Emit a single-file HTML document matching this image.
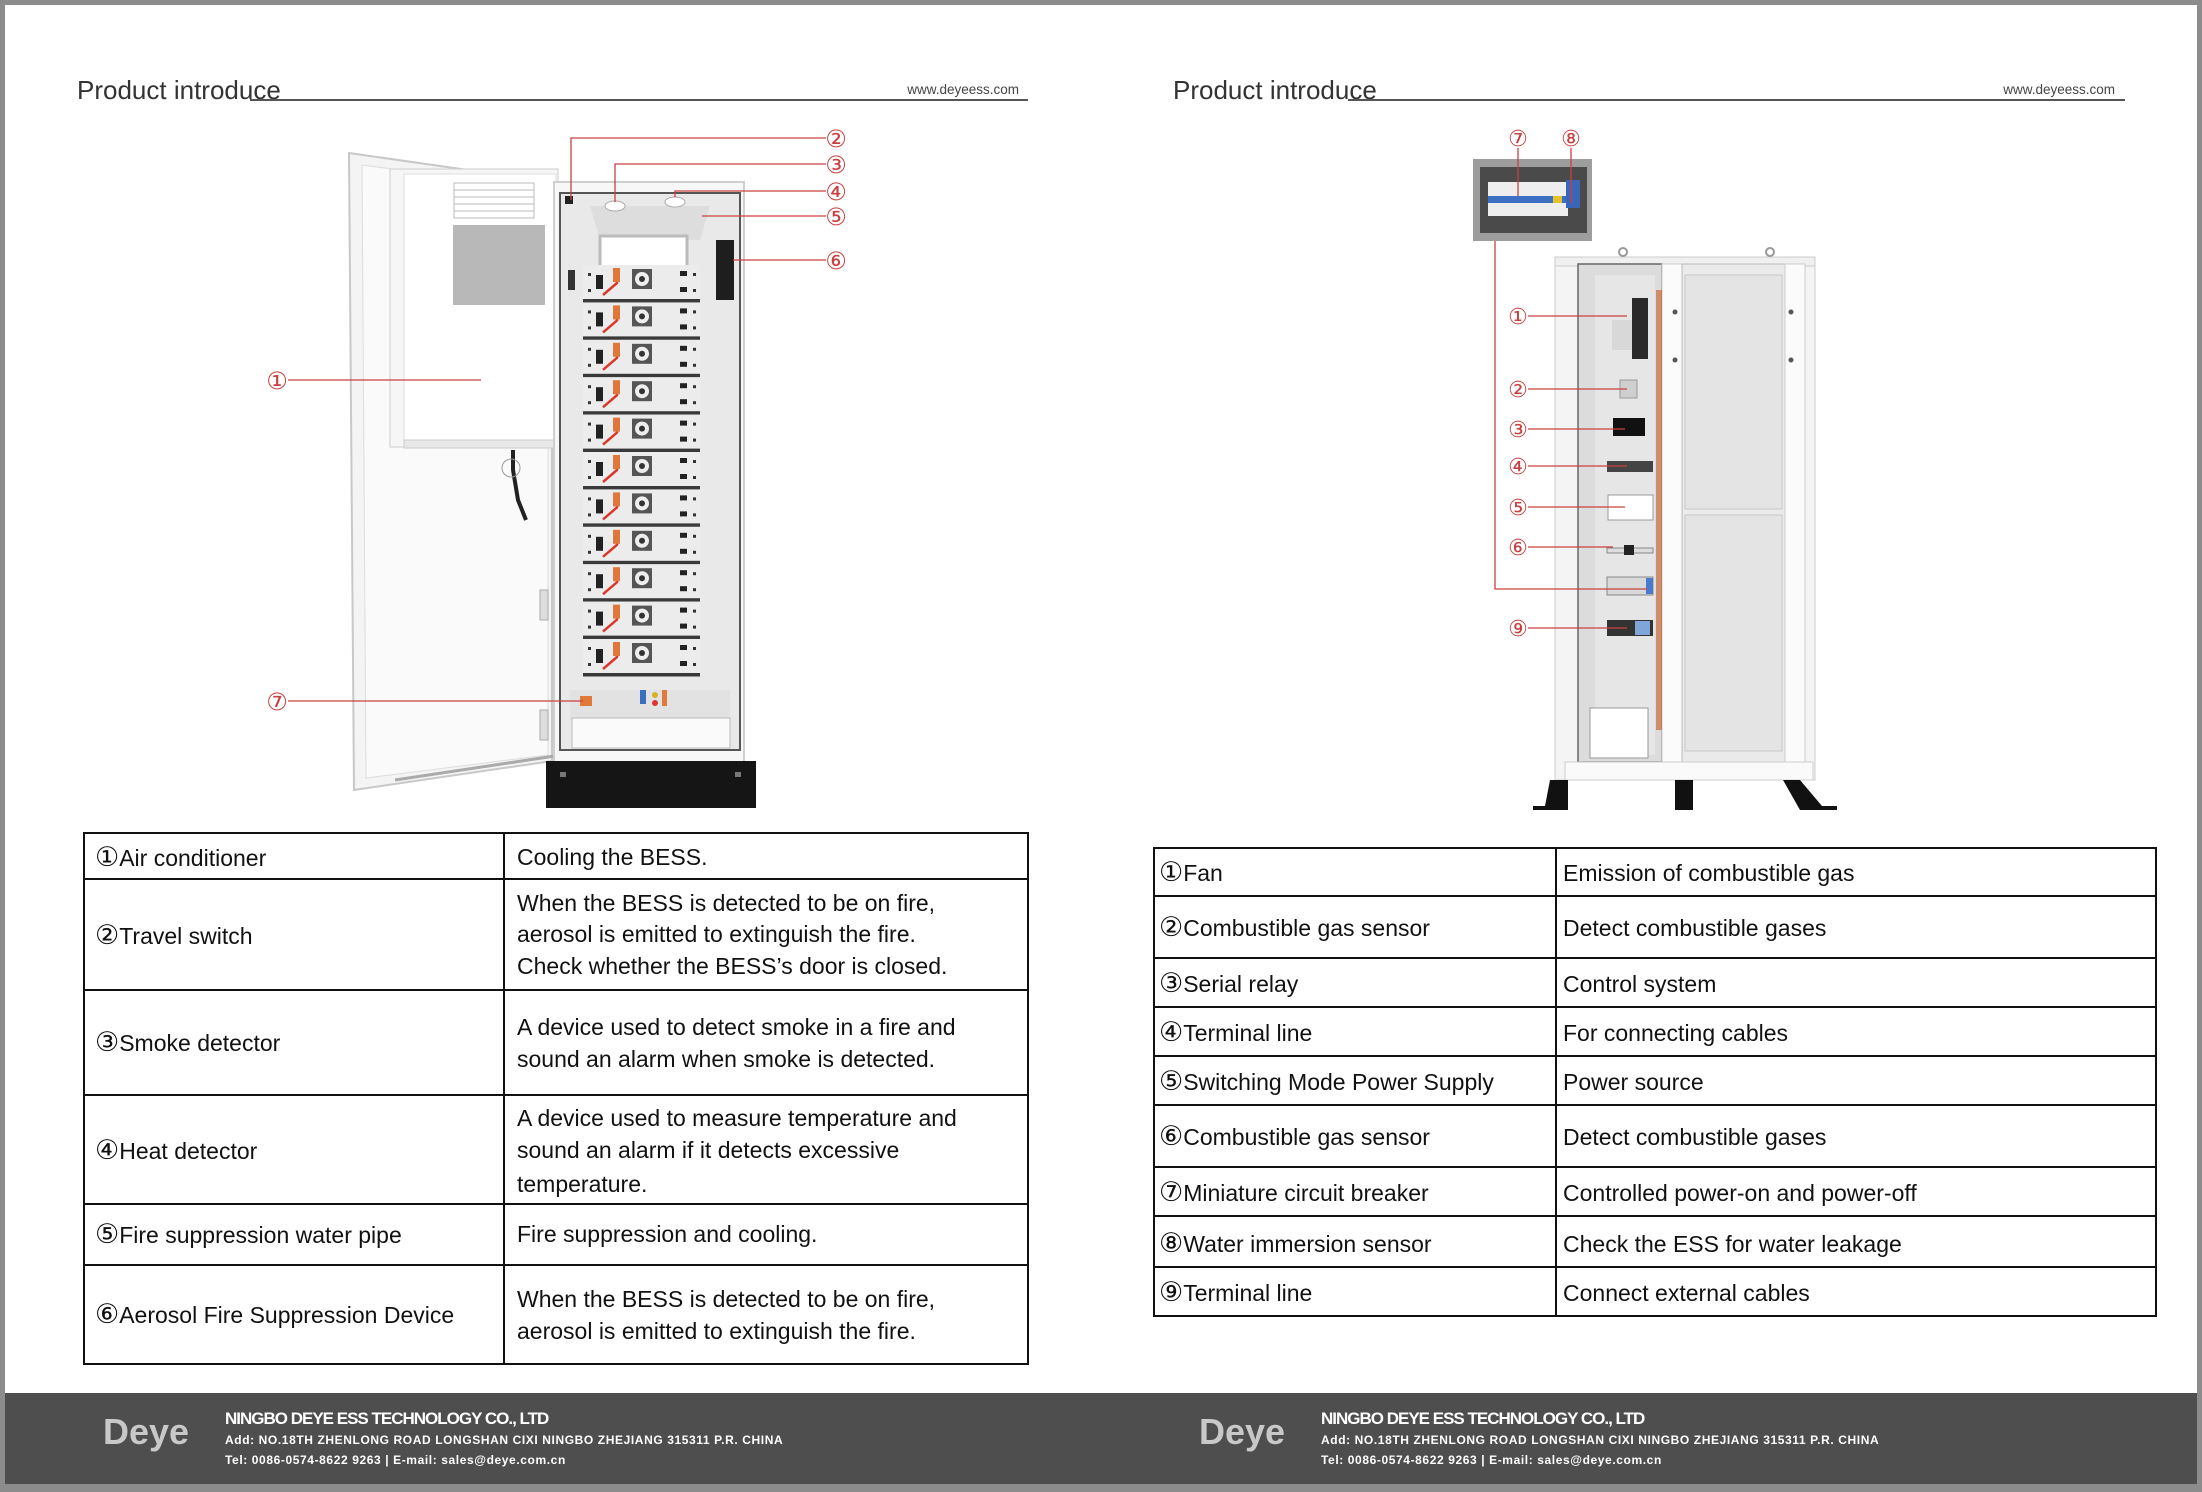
<!DOCTYPE html>
<html><head><meta charset="utf-8"><style>
html,body{margin:0;padding:0;background:#fff;}
svg{display:block;}
text{font-family:"Liberation Sans","DejaVu Sans",sans-serif;}
.c{font-family:"DejaVu Sans",sans-serif;font-size:27px;}
</style></head><body>
<svg width="2202" height="1492" viewBox="0 0 2202 1492" xmlns="http://www.w3.org/2000/svg">
<defs>
<g id="mod">
 <rect x="583" y="0" width="117" height="37" fill="#ececec"/>
 <rect x="583" y="34" width="117" height="3.5" fill="#3a3a3a"/>
 <rect x="596" y="10" width="7" height="14" fill="#222"/>
 <path d="M617 4 L617 18 L603 30" stroke="#d9382a" stroke-width="2.5" fill="none"/>
 <rect x="613" y="3" width="7" height="14" fill="#e0773a"/>
 <rect x="632" y="4" width="20" height="20" fill="#555"/>
 <circle cx="642" cy="14" r="7" fill="#eee"/><circle cx="642" cy="14" r="3" fill="#333"/>
 <rect x="680" y="6" width="7" height="5" fill="#222"/><rect x="680" y="22" width="7" height="5" fill="#222"/>
 <rect x="588" y="8" width="3" height="3" fill="#333"/><rect x="588" y="24" width="3" height="3" fill="#333"/>
 <rect x="693" y="8" width="3" height="3" fill="#333"/><rect x="693" y="24" width="3" height="3" fill="#333"/>
</g>
</defs>
<rect x="0" y="0" width="2202" height="1492" fill="#8c8c8c"/>
<rect x="5" y="5" width="2192" height="1388" fill="#fff"/>
<rect x="5" y="1393" width="2192" height="91" fill="#4e4e4e"/>

<text x="77" y="99" font-size="26" fill="#333">Product introduce</text>
<line x1="250" y1="100" x2="1028" y2="100" stroke="#555" stroke-width="2"/>
<text x="1019" y="94" font-size="13.5" fill="#444" text-anchor="end">www.deyeess.com</text>
<text x="1173" y="99" font-size="26" fill="#333">Product introduce</text>
<line x1="1348" y1="100" x2="2125" y2="100" stroke="#555" stroke-width="2"/>
<text x="2115" y="94" font-size="13.5" fill="#444" text-anchor="end">www.deyeess.com</text>

<!-- LEFT CABINET -->
<polygon points="349,153 552,182 552,761 354,790" fill="#f4f4f4" stroke="#c8c8c8" stroke-width="2"/>
<polygon points="362,165 548,190 548,755 366,778" fill="#fafafa" stroke="#ddd"/>
<rect x="390" y="169" width="168" height="278" fill="#f6f6f6" stroke="#cfcfcf"/>
<rect x="404" y="174" width="152" height="266" fill="#fff" stroke="#ddd"/>
<rect x="454" y="183" width="80" height="35" fill="#fff" stroke="#bbb"/>
<line x1="454" y1="190" x2="534" y2="190" stroke="#bbb"/><line x1="454" y1="197" x2="534" y2="197" stroke="#bbb"/><line x1="454" y1="204" x2="534" y2="204" stroke="#bbb"/><line x1="454" y1="211" x2="534" y2="211" stroke="#bbb"/>
<rect x="453" y="225" width="92" height="80" fill="#9a9a9a" opacity="0.7"/>
<rect x="404" y="440" width="152" height="8" fill="#e8e8e8" stroke="#ccc"/>
<path d="M513 450 L513 470 L518 500 L526 520" stroke="#222" stroke-width="4" fill="none"/>
<circle cx="511" cy="468" r="9" fill="none" stroke="#999"/>
<rect x="540" y="590" width="8" height="30" fill="#ddd" stroke="#aaa"/>
<rect x="540" y="710" width="8" height="30" fill="#ddd" stroke="#aaa"/>
<line x1="395" y1="780" x2="595" y2="750" stroke="#aaa" stroke-width="3"/>
<rect x="554" y="182" width="190" height="580" fill="#f7f7f7" stroke="#cfcfcf" stroke-width="2"/>
<rect x="560" y="193" width="180" height="557" fill="#e9e9e9" stroke="#555" stroke-width="2"/>
<rect x="565" y="196" width="8" height="8" fill="#222"/>
<polygon points="590,206 710,206 700,240 600,240" fill="#ddd"/>
<ellipse cx="615" cy="206" rx="10" ry="5" fill="#fff" stroke="#aaa"/>
<ellipse cx="675" cy="202" rx="10" ry="5" fill="#fff" stroke="#aaa"/>
<rect x="600" y="236" width="87" height="35" fill="#fff" stroke="#bbb" stroke-width="3"/>
<rect x="716" y="240" width="18" height="60" fill="#1e1e1e"/>
<rect x="568" y="270" width="7" height="20" fill="#333"/>
<use href="#mod" transform="translate(0,265)"/>
<use href="#mod" transform="translate(0,302.4)"/>
<use href="#mod" transform="translate(0,339.8)"/>
<use href="#mod" transform="translate(0,377.2)"/>
<use href="#mod" transform="translate(0,414.6)"/>
<use href="#mod" transform="translate(0,452)"/>
<use href="#mod" transform="translate(0,489.4)"/>
<use href="#mod" transform="translate(0,526.8)"/>
<use href="#mod" transform="translate(0,564.2)"/>
<use href="#mod" transform="translate(0,601.6)"/>
<use href="#mod" transform="translate(0,639)"/>
<rect x="570" y="690" width="160" height="30" fill="#e2e2e2"/>
<rect x="580" y="696" width="12" height="10" fill="#e07a3a"/>
<rect x="640" y="690" width="6" height="14" fill="#3a6fc0"/>
<circle cx="655" cy="695" r="3" fill="#d8b020"/><circle cx="655" cy="703" r="3" fill="#d33"/>
<rect x="662" y="690" width="5" height="16" fill="#e07a3a"/>
<rect x="572" y="718" width="158" height="30" fill="#fafafa" stroke="#bbb"/>
<rect x="546" y="761" width="210" height="47" fill="#151515"/>
<rect x="560" y="772" width="6" height="5" fill="#777"/><rect x="735" y="772" width="6" height="5" fill="#777"/>
<g stroke="#c94040" stroke-width="1.3" fill="none">
<polyline points="571,200 571,138 826,138"/>
<polyline points="615,202 615,164 826,164"/>
<polyline points="675,197 675,191 826,191"/>
<polyline points="702,216 826,216"/>
<polyline points="733,260 826,260"/>
<polyline points="288,380 481,380"/>
<polyline points="288,701 583,701"/>
</g>
<g font-size="24" fill="#c94040" text-anchor="middle" style="font-family:'DejaVu Sans',sans-serif">
<text x="836" y="147">②</text><text x="836" y="173">③</text><text x="836" y="200">④</text><text x="836" y="225">⑤</text><text x="836" y="269">⑥</text>
<text x="277" y="389">①</text><text x="277" y="710">⑦</text>
</g>

<!-- RIGHT CABINET -->
<rect x="1473" y="159" width="119" height="82" fill="#9d9d9d"/>
<rect x="1480" y="167" width="107" height="66" fill="#4a4a4a"/>
<rect x="1488" y="182" width="80" height="34" fill="#eee"/>
<rect x="1488" y="196" width="80" height="7" fill="#3d6fc2"/>
<rect x="1553" y="196" width="9" height="7" fill="#e3c22a"/>
<rect x="1566" y="180" width="14" height="28" fill="#3b66b8"/>
<rect x="1555" y="264" width="260" height="516" fill="#f4f4f4" stroke="#ccc"/>
<rect x="1555" y="257" width="260" height="9" fill="#f0f0f0" stroke="#ccc"/>
<circle cx="1623" cy="252" r="4" fill="none" stroke="#999" stroke-width="2"/>
<circle cx="1770" cy="252" r="4" fill="none" stroke="#999" stroke-width="2"/>
<rect x="1578" y="264" width="84" height="498" fill="#dcdcdc" stroke="#666" stroke-width="1.5"/>
<rect x="1595" y="275" width="60" height="480" fill="#e6e6e6"/>
<rect x="1662" y="264" width="20" height="498" fill="#fbfbfb" stroke="#ccc"/>
<rect x="1682" y="264" width="103" height="498" fill="#eaeaea" stroke="#bbb"/>
<rect x="1685" y="275" width="97" height="234" fill="#e4e4e4" stroke="#c8c8c8"/>
<rect x="1685" y="515" width="97" height="236" fill="#e4e4e4" stroke="#c8c8c8"/>
<rect x="1785" y="264" width="20" height="498" fill="#fbfbfb" stroke="#ccc"/>
<circle cx="1675" cy="312" r="2.5" fill="#555"/><circle cx="1675" cy="360" r="2.5" fill="#555"/>
<circle cx="1791" cy="312" r="2.5" fill="#555"/><circle cx="1791" cy="360" r="2.5" fill="#555"/>
<rect x="1656" y="290" width="6" height="440" fill="#c96a38" opacity="0.7"/>
<rect x="1632" y="298" width="16" height="61" fill="#2a2a2a"/>
<rect x="1612" y="320" width="20" height="30" fill="#d8d8d8"/>
<rect x="1620" y="380" width="17" height="18" fill="#cfcfcf" stroke="#999"/>
<rect x="1613" y="418" width="32" height="18" fill="#111"/>
<rect x="1607" y="461" width="46" height="11" fill="#444"/>
<rect x="1608" y="495" width="45" height="25" fill="#fff" stroke="#999"/>
<rect x="1607" y="548" width="46" height="5" fill="#ddd" stroke="#888"/><rect x="1624" y="545" width="10" height="10" fill="#222"/>
<rect x="1607" y="577" width="46" height="18" fill="#d9d9d9" stroke="#888"/><rect x="1646" y="578" width="7" height="16" fill="#4a7ad0"/>
<rect x="1607" y="620" width="46" height="16" fill="#333"/><rect x="1635" y="621" width="15" height="14" fill="#7fa6d9"/>
<rect x="1590" y="708" width="58" height="50" fill="#fff" stroke="#999"/>
<rect x="1565" y="762" width="248" height="18" fill="#fafafa" stroke="#ccc"/>
<polygon points="1550,780 1568,780 1568,810 1533,810 1533,806 1545,806" fill="#111"/>
<rect x="1675" y="780" width="18" height="30" fill="#111"/>
<polygon points="1783,780 1800,780 1822,806 1837,806 1837,810 1800,810" fill="#111"/>
<g stroke="#c94040" stroke-width="1.3" fill="none">
<polyline points="1518,148 1518,196"/>
<polyline points="1571,148 1571,203"/>
<polyline points="1495,241 1495,589 1647,589"/>
<polyline points="1528,316 1627,316"/>
<polyline points="1528,389 1627,389"/>
<polyline points="1528,429 1625,429"/>
<polyline points="1528,466 1627,466"/>
<polyline points="1528,507 1625,507"/>
<polyline points="1528,547 1613,547"/>
<polyline points="1528,628 1627,628"/>
</g>
<g font-size="22" fill="#c94040" text-anchor="middle" style="font-family:'DejaVu Sans',sans-serif">
<text x="1518" y="146">⑦</text><text x="1571" y="146">⑧</text>
<text x="1518" y="324">①</text><text x="1518" y="397">②</text><text x="1518" y="437">③</text><text x="1518" y="474">④</text>
<text x="1518" y="515">⑤</text><text x="1518" y="555">⑥</text><text x="1518" y="636">⑨</text>
</g>

<!-- LEFT TABLE -->
<g stroke="#111" stroke-width="2" fill="none">
<rect x="84" y="833" width="944" height="531"/>
<line x1="504" y1="833" x2="504" y2="1364"/>
<line x1="84" y1="879" x2="1028" y2="879"/>
<line x1="84" y1="990" x2="1028" y2="990"/>
<line x1="84" y1="1095" x2="1028" y2="1095"/>
<line x1="84" y1="1204" x2="1028" y2="1204"/>
<line x1="84" y1="1265" x2="1028" y2="1265"/>
</g>
<g font-size="23" fill="#111">
<text x="95" y="866"><tspan class="c">①</tspan>Air conditioner</text>
<text x="95" y="944"><tspan class="c">②</tspan>Travel switch</text>
<text x="95" y="1051"><tspan class="c">③</tspan>Smoke detector</text>
<text x="95" y="1159"><tspan class="c">④</tspan>Heat detector</text>
<text x="95" y="1243"><tspan class="c">⑤</tspan>Fire suppression water pipe</text>
<text x="95" y="1323"><tspan class="c">⑥</tspan>Aerosol Fire Suppression Device</text>
<text x="517" y="865">Cooling the BESS.</text>
<text x="517" y="911">When the BESS is detected to be on fire,</text>
<text x="517" y="942">aerosol is emitted to extinguish the fire.</text>
<text x="517" y="974">Check whether the BESS’s door is closed.</text>
<text x="517" y="1035">A device used to detect smoke in a fire and</text>
<text x="517" y="1067">sound an alarm when smoke is detected.</text>
<text x="517" y="1126">A device used to measure temperature and</text>
<text x="517" y="1158">sound an alarm if it detects excessive</text>
<text x="517" y="1192">temperature.</text>
<text x="517" y="1242">Fire suppression and cooling.</text>
<text x="517" y="1307">When the BESS is detected to be on fire,</text>
<text x="517" y="1339">aerosol is emitted to extinguish the fire.</text>
</g>

<!-- RIGHT TABLE -->
<g stroke="#111" stroke-width="2" fill="none">
<rect x="1154" y="848" width="1002" height="468"/>
<line x1="1556" y1="848" x2="1556" y2="1316"/>
<line x1="1154" y1="896" x2="2156" y2="896"/>
<line x1="1154" y1="958" x2="2156" y2="958"/>
<line x1="1154" y1="1007" x2="2156" y2="1007"/>
<line x1="1154" y1="1056" x2="2156" y2="1056"/>
<line x1="1154" y1="1105" x2="2156" y2="1105"/>
<line x1="1154" y1="1167" x2="2156" y2="1167"/>
<line x1="1154" y1="1216" x2="2156" y2="1216"/>
<line x1="1154" y1="1267" x2="2156" y2="1267"/>
</g>
<g font-size="23" fill="#111">
<text x="1159" y="881"><tspan class="c">①</tspan>Fan</text><text x="1563" y="881">Emission of combustible gas</text>
<text x="1159" y="936"><tspan class="c">②</tspan>Combustible gas sensor</text><text x="1563" y="936">Detect combustible gases</text>
<text x="1159" y="992"><tspan class="c">③</tspan>Serial relay</text><text x="1563" y="992">Control system</text>
<text x="1159" y="1041"><tspan class="c">④</tspan>Terminal line</text><text x="1563" y="1041">For connecting cables</text>
<text x="1159" y="1090"><tspan class="c">⑤</tspan>Switching Mode Power Supply</text><text x="1563" y="1090">Power source</text>
<text x="1159" y="1145"><tspan class="c">⑥</tspan>Combustible gas sensor</text><text x="1563" y="1145">Detect combustible gases</text>
<text x="1159" y="1201"><tspan class="c">⑦</tspan>Miniature circuit breaker</text><text x="1563" y="1201">Controlled power-on and power-off</text>
<text x="1159" y="1252"><tspan class="c">⑧</tspan>Water immersion sensor</text><text x="1563" y="1252">Check the ESS for water leakage</text>
<text x="1159" y="1301"><tspan class="c">⑨</tspan>Terminal line</text><text x="1563" y="1301">Connect external cables</text>
</g>

<!-- FOOTERS -->
<g fill="#fff">
<text x="103" y="1444" font-size="36" font-weight="bold" fill="#c8c8c8">Deye</text>
<text x="225" y="1424" font-size="17" font-weight="bold" letter-spacing="-1">NINGBO DEYE ESS TECHNOLOGY CO., LTD</text>
<text x="225" y="1444" font-size="12" font-weight="bold" letter-spacing="0.6">Add: NO.18TH ZHENLONG ROAD LONGSHAN CIXI NINGBO ZHEJIANG 315311 P.R. CHINA</text>
<text x="225" y="1464" font-size="12" font-weight="bold" letter-spacing="0.6">Tel: 0086-0574-8622 9263 | E-mail: sales@deye.com.cn</text>
<text x="1199" y="1444" font-size="36" font-weight="bold" fill="#c8c8c8">Deye</text>
<text x="1321" y="1424" font-size="17" font-weight="bold" letter-spacing="-1">NINGBO DEYE ESS TECHNOLOGY CO., LTD</text>
<text x="1321" y="1444" font-size="12" font-weight="bold" letter-spacing="0.6">Add: NO.18TH ZHENLONG ROAD LONGSHAN CIXI NINGBO ZHEJIANG 315311 P.R. CHINA</text>
<text x="1321" y="1464" font-size="12" font-weight="bold" letter-spacing="0.6">Tel: 0086-0574-8622 9263 | E-mail: sales@deye.com.cn</text>
</g>
</svg>
</body></html>
